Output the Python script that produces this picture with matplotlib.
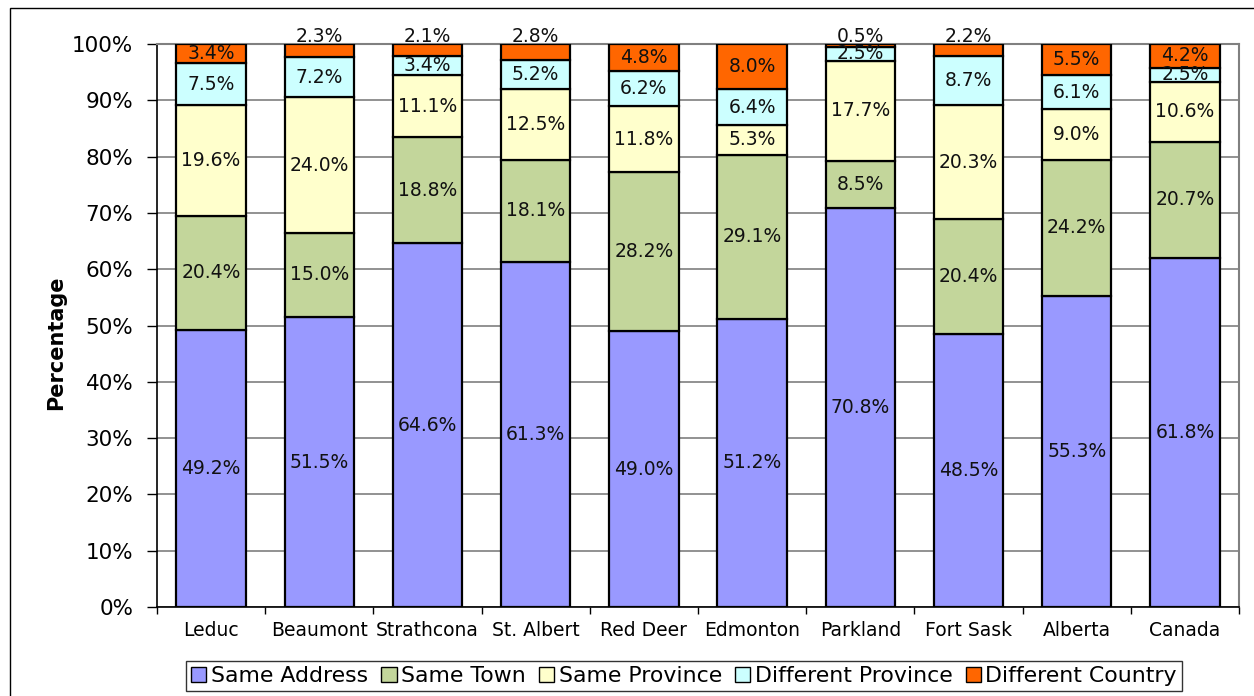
import matplotlib
matplotlib.use("Agg")
import matplotlib.pyplot as plt
import numpy as np
from matplotlib.patches import Rectangle, Patch
from matplotlib.ticker import FuncFormatter, FixedLocator

plt.rcParams['font.family'] = ['DejaVu Sans']

categories = ["Leduc", "Beaumont", "Strathcona", "St. Albert", "Red Deer",
              "Edmonton", "Parkland", "Fort Sask", "Alberta", "Canada"]
series_names = ["Same Address", "Same Town", "Same Province",
                "Different Province", "Different Country"]
same_address = [49.2, 51.5, 64.6, 61.3, 49.0, 51.2, 70.8, 48.5, 55.3, 61.8]
same_town = [20.4, 15.0, 18.8, 18.1, 28.2, 29.1, 8.5, 20.4, 24.2, 20.7]
same_province = [19.6, 24.0, 11.1, 12.5, 11.8, 5.3, 17.7, 20.3, 9.0, 10.6]
diff_province = [7.5, 7.2, 3.4, 5.2, 6.2, 6.4, 2.5, 8.7, 6.1, 2.5]
diff_country = [3.4, 2.3, 2.1, 2.8, 4.8, 8.0, 0.5, 2.2, 5.5, 4.2]
colors = ["#9999FF", "#C3D69B", "#FFFFCC", "#CCFFFF", "#FF6600"]

data = np.array([same_address, same_town, same_province, diff_province, diff_country])
totals = data.sum(axis=0)
norm = data / totals * 100.0

W, H = 1254, 696
fig = plt.figure(figsize=(W / 100, H / 100), dpi=100)
# outer chart border
fig.patches.append(Rectangle((10 / W, -0.05), 1.2, 1 - 8 / H + 0.05,
                             transform=fig.transFigure, fill=False,
                             edgecolor="black", linewidth=1.0))

ax = fig.add_axes([157 / W, 1 - 607 / H, (1239 - 157) / W, (607 - 44) / H])
x = np.arange(len(categories))
bw = 0.64
bottom = np.zeros(len(categories))
for i, name in enumerate(series_names):
    ax.bar(x, norm[i], bw, bottom=bottom, color=colors[i], edgecolor="black",
           linewidth=1.6, label=name, zorder=3)
    for j in range(len(categories)):
        val = data[i, j]
        if i == 4 and val < 3.0:
            yy = 101.4
        else:
            yy = bottom[j] + norm[i, j] / 2
        ax.text(x[j], yy, f"{val:.1f}%", ha="center", va="center",
                fontsize=13.5, color="#111111", zorder=5, clip_on=False)
    bottom += norm[i]

ax.set_xlim(-0.5, len(categories) - 0.5)
ax.set_ylim(0, 100)
ax.set_yticks(np.arange(0, 101, 10))
ax.yaxis.set_major_formatter(FuncFormatter(lambda v, p: f"{v:.0f}%"))
ax.yaxis.grid(True, color="#7f7f7f", linewidth=1.2, zorder=0)
ax.set_axisbelow(True)
ax.tick_params(axis="y", labelsize=15.5, length=7, width=1.0, pad=10)
ax.set_xticks(x)
ax.set_xticklabels(categories, fontsize=13.5)
ax.tick_params(axis="x", length=0, pad=10)
ax.xaxis.set_minor_locator(FixedLocator(np.arange(-0.5, len(categories), 1.0)))
ax.tick_params(axis="x", which="minor", length=5, width=1.0)
for s in ["top", "right"]:
    ax.spines[s].set_color("#808080")
    ax.spines[s].set_linewidth(1.5)
for s in ["left", "bottom"]:
    ax.spines[s].set_color("black")
    ax.spines[s].set_linewidth(1.2)
ax.set_ylabel("Percentage", fontsize=15, fontweight="bold")
ax.yaxis.set_label_coords((66 - 157) / 1082, (607 - 343) / 563)

handles = [Patch(facecolor=c, edgecolor="black", linewidth=1.0) for c in colors]
leg = fig.legend(handles, series_names, loc="center",
                 bbox_to_anchor=((185 + 1183) / 2 / W, 1 - 676 / H),
                 ncol=5, fontsize=15.8, frameon=True, fancybox=False,
                 edgecolor="black", handlelength=0.7, handleheight=0.7,
                 handletextpad=0.2, columnspacing=0.6, borderpad=0.25,
                 borderaxespad=0)
leg.get_frame().set_linewidth(1.0)

fig.savefig("out.png", dpi=100)
